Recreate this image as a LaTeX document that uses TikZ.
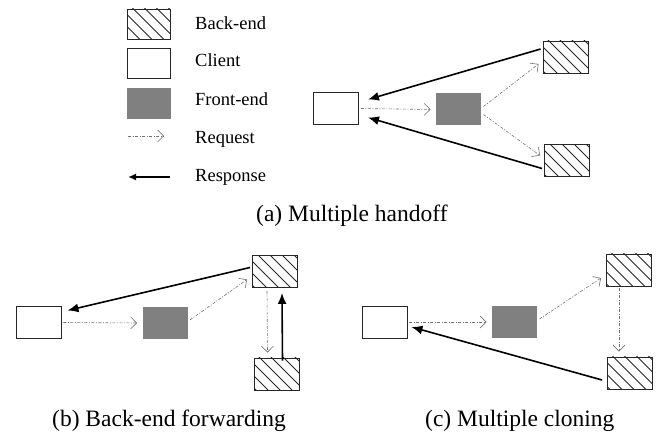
\documentclass[tikz,border=0pt]{standalone}
\usepackage{fontspec}
\setmainfont{Liberation Serif}
\usetikzlibrary{arrows.meta}

\tikzset{
  x=1pt, y=-1pt,
  box/.style={rectangle, inner sep=0pt, minimum width=45pt, minimum height=32pt, draw=black!85, line width=0.9pt},
  clientbox/.style={box, fill=white},
  frontbox/.style={box, draw=none, fill=black!50},
  backbox/.style={box, path picture={
      \foreach \k in {-5,...,4}
        \draw[line width=0.8pt, black!85]
          ([xshift=\k*12pt+4pt, yshift=2pt]path picture bounding box.north west) -- ++(50pt,-50pt);
    }},
  request/.style={draw=black!55, line width=0.6pt,
      dash pattern=on 3pt off 1.5pt on 1pt off 1.5pt,
      -{Straight Barb[length=6pt, width=12pt, line width=0.6pt]}},
  response/.style={draw=black, line width=1.6pt, -{Latex[length=11pt, width=9pt]}},
  legendtext/.style={anchor=base west, inner sep=0pt, font=\fontsize{18.5}{20}\selectfont},
  caption/.style={anchor=base west, inner sep=0pt, font=\fontsize{23.5}{26}\selectfont},
}

\begin{document}
\begin{tikzpicture}
\useasboundingbox (0,0) rectangle (656,443);

% ---------- legend ----------
\node[backbox, minimum width=43pt, minimum height=30pt] (lb) at (149,24) {};
\node[clientbox, minimum width=43pt, minimum height=30pt] (lc) at (149,63) {};
\node[frontbox, minimum width=44pt, minimum height=31pt] (lf) at (149,103.5) {};
\coordinate (lqa) at (128,136);
\coordinate (lqb) at (164,136);
\coordinate (lra) at (170,177);
\coordinate (lrb) at (128,177);
\draw[request] (lqa) -- (lqb);
\draw[response, -{Latex[length=8pt, width=7pt]}] (lra) -- (lrb);
\node[legendtext] (tb) at (195,30) {Back-end};
\node[legendtext] (tc) at (195,67) {Client};
\node[legendtext] (tf) at (195,106) {Front-end};
\node[legendtext] (tq) at (195,144) {Request};
\node[legendtext] (tr) at (195,182) {Response};

% ---------- (a) multiple handoff ----------
\node[clientbox] (ac) at (336,108.5) {};
\node[frontbox]  (af) at (458.5,109.5) {};
\node[backbox]   (ab1) at (565.5,57) {};
\node[backbox]   (ab2) at (567,160.5) {};
\draw[request] ([xshift=2pt]ac.east) -- ([xshift=-5pt]af.west);
\draw[request] ([xshift=2pt, yshift=3pt]af.east) -- ([xshift=-4pt, yshift=-7pt]ab1.west);
\draw[request] ([xshift=2pt, yshift=-5pt]af.east) -- ([xshift=-4pt, yshift=5pt]ab2.west);
\draw[response] ([xshift=-2pt, yshift=8pt]ab1.west) -- ([xshift=9pt, yshift=9pt]ac.east);
\draw[response] ([xshift=-2pt, yshift=-8pt]ab2.west) -- ([xshift=9pt, yshift=-9pt]ac.east);
\node[caption] (capa) at (256,222) {(a) Multiple handoff};

% ---------- (b) back-end forwarding ----------
\node[clientbox] (bc) at (38.5,322.5) {};
\node[frontbox]  (bf) at (165,323) {};
\node[backbox]   (bb1) at (275,271.5) {};
\node[backbox]   (bb2) at (276.5,374) {};
\draw[request] ([xshift=2pt]bc.east) -- ([xshift=-5pt]bf.west);
\draw[request] ([xshift=2pt, yshift=3pt]bf.east) -- ([xshift=-5pt, yshift=-8pt]bb1.west);
\draw[request] ([xshift=-8pt, yshift=-3pt]bb1.south) -- ([xshift=-9pt, yshift=5pt]bb2.north);
\draw[response] ([xshift=6pt, yshift=-3pt]bb2.north) -- ([xshift=7pt, yshift=-5pt]bb1.south);
\draw[response] ([xshift=-2pt, yshift=4pt]bb1.west) -- ([xshift=6pt, yshift=12pt]bc.east);
\node[caption] (capb) at (52,427) {(b) Back-end forwarding};

% ---------- (c) multiple cloning ----------
\node[clientbox] (cc) at (384.5,322) {};
\node[frontbox]  (cf) at (514.5,322) {};
\node[backbox]   (cb1) at (629,270) {};
\node[backbox]   (cb2) at (630,373) {};
\draw[request] ([xshift=2pt]cc.east) -- ([xshift=-5pt]cf.west);
\draw[request] ([xshift=2pt, yshift=3pt]cf.east) -- ([xshift=-5pt, yshift=-8pt]cb1.west);
\draw[request] ([xshift=-10pt, yshift=-2pt]cb1.south) -- ([xshift=-11pt, yshift=5pt]cb2.north);
\draw[response] ([xshift=-5pt, yshift=-7pt]cb2.west) -- ([xshift=4pt, yshift=-5pt]cc.east);
\node[caption] (capc) at (425,427) {(c) Multiple cloning};
\end{tikzpicture}
\end{document}
